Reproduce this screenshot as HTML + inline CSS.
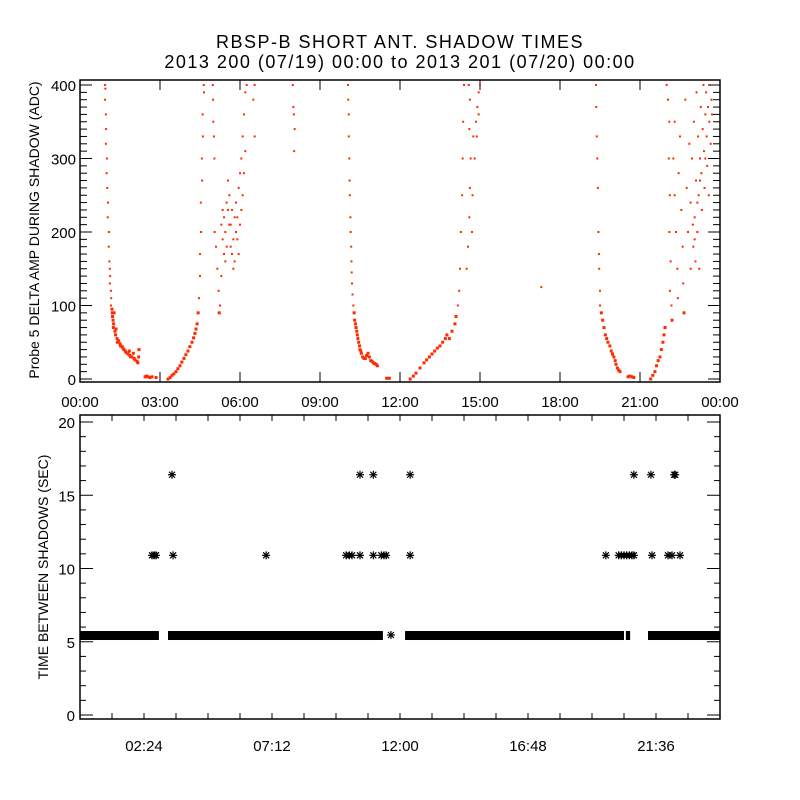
<!DOCTYPE html>
<html><head><meta charset="utf-8">
<style>
html,body{margin:0;padding:0;background:#fff;}
svg{display:block;font-family:"Liberation Sans",sans-serif;}
</style></head>
<body>
<svg id="chart" width="800" height="800" viewBox="0 0 800 800">
<rect width="800" height="800" fill="#fff"/>
<text x="400" y="48" text-anchor="middle" font-size="18" letter-spacing="1.5">RBSP-B SHORT ANT. SHADOW TIMES</text>
<text x="400" y="68" text-anchor="middle" font-size="18" letter-spacing="1.5">2013 200 (07/19) 00:00 to 2013 201 (07/20) 00:00</text>
<g id="topPanel"></g>
<g id="botPanel"></g>
<text transform="translate(39,230) rotate(-90)" text-anchor="middle" font-size="14">Probe 5 DELTA AMP DURING SHADOW (ADC)</text>
<text transform="translate(48,567) rotate(-90)" text-anchor="middle" font-size="14">TIME BETWEEN SHADOWS (SEC)</text>
</svg>
<script>
// ---- data ----
const topXTickLabels = ["00:00","03:00","06:00","09:00","12:00","15:00","18:00","21:00","00:00"];
const topYTickLabels = ["0","100","200","300","400"];
const botXTickLabels = ["02:24","07:12","12:00","16:48","21:36"];
const botYTickLabels = ["0","5","10","15","20"];
// [hour, ADC]
const ampSamples = [
[0.94,400],[0.95,395],[0.94,380],[0.97,360],[0.98,340],[0.97,320],[1.01,300],[1.0,280],[1.02,260],[1.05,240],[1.04,220],[1.09,200],[1.08,180],[1.1,160],[1.12,150],[1.13,140],[1.12,130],[1.16,120],[1.17,110],[1.16,100],[1.2,95],[1.21,90],[1.22,85],[1.24,80],[1.26,75],[1.25,70],[1.31,65],[1.33,60],[1.39,55],[1.4,50],[1.45,52],[1.5,48],[1.52,45],[1.58,44],[1.61,42],[1.65,40],[1.7,38],[1.73,36],[1.8,34],[1.87,32],[1.9,30],[1.95,30],[2.03,28],[2.06,26],[2.14,24],[2.17,22],[2.2,30],[2.21,40],[2.0,35],[1.85,38],[1.35,68],[1.28,90],
[2.44,3],[2.5,4],[2.55,3],[2.62,2],[2.7,3],[2.85,2],
[3.3,0],[3.38,2],[3.45,5],[3.52,7],[3.6,10],[3.67,14],[3.75,18],[3.82,23],[3.9,28],[3.97,33],[4.05,38],[4.12,44],[4.2,50],[4.26,56],[4.31,62],[4.35,68],[4.39,75],[4.43,90],[4.46,110],[4.5,140],[4.5,170],[4.54,200],[4.53,240],[4.58,270],[4.57,300],[4.61,330],[4.6,360],[4.65,390],[4.64,400],
[4.98,400],[4.99,380],[5.02,330],[5.04,300],[5.0,350],
[5.05,200],[5.1,180],[5.15,150],[5.2,120],[5.22,90],[5.25,100],[5.3,140],[5.35,190],[5.4,220],[5.45,200],[5.5,240],[5.55,270],[5.6,210],[5.65,180],[5.7,230],[5.75,190],[5.8,160],[5.85,200],[5.9,220],[5.95,170],[6.0,210],[5.5,180],[5.6,250],[5.4,170],[5.3,210],[5.75,150],[5.85,240],[5.95,260],[5.55,230],[5.65,210],[5.7,170],[5.45,160],[5.35,230],[5.8,220],[5.9,190],[6.05,230],
[6.0,280],[6.05,300],[6.1,330],[6.15,360],[6.2,390],[6.25,400],[6.1,250],[6.2,310],[6.15,280],
[6.5,380],[6.55,400],[6.55,330],
[7.98,400],[8.0,370],[8.02,360],[8.05,340],[8.03,310],
[10.05,400],[10.06,380],[10.08,360],[10.08,330],[10.1,300],[10.11,270],[10.12,250],[10.14,220],[10.15,200],[10.17,180],[10.18,160],[10.19,145],[10.2,130],[10.22,115],[10.25,100],[10.28,90],[10.3,80],[10.33,75],[10.35,70],[10.38,65],[10.4,60],[10.42,55],[10.45,50],[10.48,45],[10.5,40],[10.53,38],[10.55,35],[10.6,30],[10.65,28],[10.7,28],[10.75,32],[10.8,35],[10.85,30],[10.9,25],[10.95,24],[11.0,22],[11.05,21],[11.1,20],[11.15,18],
[11.5,1],[11.6,1],
[12.38,0],[12.5,4],[12.6,8],[12.75,15],[12.9,22],[13.0,26],[13.1,30],[13.2,34],[13.3,38],[13.4,42],[13.5,45],[13.6,50],[13.7,55],[13.76,60],[13.85,55],[13.95,65],[14.06,75],[14.1,85],[14.17,100],[14.22,120],[14.25,150],[14.28,200],[14.33,250],[14.35,300],[14.37,350],[14.4,400],
[14.5,150],[14.55,180],[14.6,220],[14.62,260],[14.65,300],[14.6,340],[14.62,380],[14.58,400],[14.7,200],[14.72,250],[14.75,330],[14.8,300],[14.85,350],[14.9,370],[14.95,390],[15.0,400],[14.88,330],[14.95,360],
[17.3,125],
[19.35,400],[19.36,370],[19.38,330],[19.4,300],[19.42,260],[19.44,200],[19.46,170],[19.47,150],[19.5,120],[19.5,100],[19.55,90],[19.6,80],[19.65,70],[19.7,60],[19.75,55],[19.8,50],[19.87,45],[19.92,38],[19.97,34],[20.02,30],[20.07,25],[20.1,20],[20.15,15],[20.2,12],[20.25,10],
[20.55,3],[20.62,4],[20.7,3],[20.77,2],
[21.4,0],[21.48,5],[21.56,10],[21.62,18],[21.68,25],[21.75,30],[21.8,40],[21.86,50],[21.9,60],[21.94,70],
[22.0,400],[22.05,380],[22.1,350],[22.08,300],[22.12,250],[22.1,200],[22.15,160],[22.12,120],[22.18,100],[22.2,80],[22.25,300],[22.3,350],[22.3,250],[22.35,200],[22.4,150],[22.42,110],[22.45,280],[22.5,330],[22.55,230],[22.6,180],[22.62,130],[22.65,90],[22.7,380],[22.75,260],[22.8,200],[22.85,320],[22.9,150],
[22.9,240],[22.95,300],[23.0,180],[23.02,350],[23.05,220],[23.08,160],[23.1,270],[23.12,390],[23.15,200],[23.18,330],[23.2,250],[23.22,150],[23.25,300],[23.28,370],[23.3,280],[23.32,230],[23.35,340],[23.38,400],[23.4,310],[23.42,260],[23.45,360],[23.48,390],[23.5,330],[23.52,290],[23.55,370],[23.58,250],[23.6,350],[23.62,400],[23.65,320],[23.68,380],[23.7,360],[23.15,240],[23.05,190],[22.98,210],[23.25,270],[23.45,300]
];
// [startHour, endHour] of the continuous ~5.46 s cadence band
const bandSegments = [[0,2.96],[3.3,11.36],[12.19,20.4],[20.47,20.63],[21.3,24]];
const bandValue = 5.46;
// isolated asterisks
const starTimes  = [2.7,2.78,2.85,3.49,6.98,9.98,10.1,10.2,10.5,11.0,11.3,11.4,11.48,12.38,19.72,20.2,20.3,20.4,20.5,20.6,20.7,20.77,21.45,22.05,22.2,22.5,11.66,3.45,10.5,11.0,12.38,20.77,21.41,22.28,22.32];
const starValues = [10.9,10.9,10.9,10.9,10.9,10.9,10.9,10.9,10.9,10.9,10.9,10.9,10.9,10.9,10.9,10.9,10.9,10.9,10.9,10.9,10.9,10.9,10.9,10.9,10.9,10.9,5.46,16.4,16.4,16.4,16.4,16.4,16.4,16.4,16.4];

// ---- scales ----
const NS="http://www.w3.org/2000/svg";
const L=80,R=720;
const xT=h=>L+h*(R-L)/24;
const topTop=80,topBot=382;
const yA=v=>379-v*0.735;
const botTop=415,botBot=719;
const yS=v=>715-v*14.65;
function mk(tag,attrs,parent){const e=document.createElementNS(NS,tag);for(const k in attrs)e.setAttribute(k,attrs[k]);parent.appendChild(e);return e;}
const topG=document.getElementById('topPanel'),botG=document.getElementById('botPanel');

let f=mk('rect',{x:L,y:topTop,width:R-L,height:topBot-topTop,fill:'none',stroke:'#000','stroke-width':1.5},topG);


for(let v=0;v<=400;v+=10){
  const y=yA(v),len=(v%100===0)?12:7;
  mk('line',{x1:L,x2:L+len,y1:y,y2:y,stroke:'#000'},topG);
  mk('line',{x1:R,x2:R-len,y1:y,y2:y,stroke:'#000'},topG);
}
topYTickLabels.forEach((s,i)=>{
  const t=mk('text',{x:L-4,y:yA(i*100)+6,'text-anchor':'end','font-size':15},topG);t.textContent=s;
  
  
});
topXTickLabels.forEach((s,i)=>{
  const x=xT(i*3);
  mk('line',{x1:x,x2:x,y1:topBot,y2:topBot-10,stroke:'#000'},topG);
  mk('line',{x1:x,x2:x,y1:topTop,y2:topTop+10,stroke:'#000'},topG);
  const t=mk('text',{x:x,y:407,'text-anchor':'middle','font-size':15},topG);t.textContent=s;
  
  
});
ampSamples.forEach(p=>{
  const s=p[1]<100?3:2;
  const r=mk('rect',{x:xT(p[0])-s/2,y:yA(p[1])-s/2,width:s,height:s,fill:'#ff2a00'},topG);
  
  
});

f=mk('rect',{x:L,y:botTop,width:R-L,height:botBot-botTop,fill:'none',stroke:'#000','stroke-width':1.5},botG);


for(let v=0;v<=20;v++){
  const y=yS(v),len=(v%5===0)?13:6;
  mk('line',{x1:L,x2:L+len,y1:y,y2:y,stroke:'#000'},botG);
  mk('line',{x1:R,x2:R-len,y1:y,y2:y,stroke:'#000'},botG);
}
botYTickLabels.forEach((s,i)=>{
  const t=mk('text',{x:L-5,y:yS(i*5)+6,'text-anchor':'end','font-size':15},botG);t.textContent=s;
  
  
});
for(let i=1;i<20;i++){
  const x=xT(i*1.2);
  mk('line',{x1:x,x2:x,y1:botBot,y2:botBot-6,stroke:'#000'},botG);
  mk('line',{x1:x,x2:x,y1:botTop,y2:botTop+6,stroke:'#000'},botG);
}
botXTickLabels.forEach((s,i)=>{
  const x=xT((i+0.5)*4.8);
  const t=mk('text',{x:x,y:751,'text-anchor':'middle','font-size':15},botG);t.textContent=s;
  
  
});
bandSegments.forEach(s=>{
  const r=mk('rect',{x:xT(s[0]),y:yS(bandValue)-4,width:xT(s[1])-xT(s[0]),height:9,fill:'#000'},botG);
  
  
});
starTimes.forEach((h,i)=>{
  const cx=xT(h),cy=yS(starValues[i]);
  const g=mk('g',{stroke:'#000','stroke-width':1.2},botG);
  
  
  mk('line',{x1:cx-4,x2:cx+4,y1:cy,y2:cy},g);
  mk('line',{x1:cx,x2:cx,y1:cy-4,y2:cy+4},g);
  mk('line',{x1:cx-3,x2:cx+3,y1:cy-3,y2:cy+3},g);
  mk('line',{x1:cx-3,x2:cx+3,y1:cy+3,y2:cy-3},g);
});
</script>
</body></html>
